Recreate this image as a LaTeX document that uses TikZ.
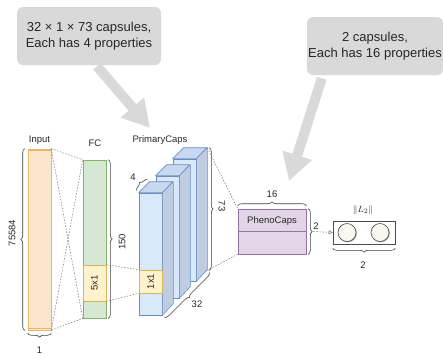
\documentclass[tikz,border=0pt]{standalone}
\usepackage{fontspec}
\setmainfont{Liberation Sans}
\usepackage{tikz}
\usetikzlibrary{positioning, arrows.meta, decorations.pathreplacing, calc, shadows}
\usepackage{xcolor}
\definecolor{inFill}{RGB}{252,229,205}
\definecolor{inDraw}{RGB}{232,184,96}
\definecolor{fcFill}{RGB}{213,232,212}
\definecolor{fcDraw}{RGB}{130,179,102}
\definecolor{ylFill}{RGB}{255,242,204}
\definecolor{ylDraw}{RGB}{214,182,86}
\definecolor{capFront}{RGB}{218,232,252}
\definecolor{capTop}{RGB}{200,216,240}
\definecolor{capSide}{RGB}{192,204,226}
\definecolor{capDraw}{RGB}{108,142,191}
\definecolor{phFill}{RGB}{225,213,231}
\definecolor{phDraw}{RGB}{150,115,166}
\definecolor{callGray}{RGB}{217,217,217}
\definecolor{unitFill}{RGB}{250,248,238}

\begin{document}
\begin{tikzpicture}[
  x=1pt, y=-1pt,
  every node/.style={font=\fontsize{9.5}{11}\selectfont, text=black!85},
  bar/.style={draw, line width=0.6pt, inner sep=0pt, minimum width=23pt},
  capface/.style={draw=capDraw, line width=0.6pt, line join=round},
  brc/.style={decorate, decoration={brace, amplitude=4pt}, draw=black!75, line width=0.6pt},
  conn/.style={draw=black!55, line width=0.5pt, dash pattern=on 1.5pt off 1.5pt},
  callout/.style={fill=callGray, rounded corners=6pt, minimum height=58pt, inner sep=0pt,
    align=center, font=\fontsize{13}{16}\selectfont},
  fatarrow/.style={draw=callGray, line width=10pt, -{Triangle[length=27pt, width=29pt]}},
  unit/.style={circle, draw=black!75, fill=unitFill, line width=0.6pt, minimum size=18pt, inner sep=0pt,
    drop shadow={shadow xshift=0.8pt, shadow yshift=-0.8pt, opacity=0.35, fill=black}},
]
\useasboundingbox (0,0) rectangle (443,357);

\node[bar, draw=inDraw, fill=inFill, minimum height=181pt] (input) at (39.5,239.5) {};
\draw[inDraw, line width=0.6pt] ([yshift=-2pt]input.north west) -- ([yshift=-2pt]input.north east);
\draw[inDraw, line width=0.6pt] ([yshift=2pt]input.south west) -- ([yshift=2pt]input.south east);
\node[bar, draw=fcDraw, fill=fcFill, minimum height=158pt] (fc) at (94.5,239) {};
\node[bar, draw=ylDraw, fill=ylFill, minimum height=36pt] (fc5x1) at (94.5,283) {};
\node[rotate=90] at (fc5x1) {5x1};

\foreach \i in {2,1,0} {
  \node[bar, draw=capDraw, fill=capFront, minimum height=122pt] (cap\i) at (150.5+17*\i, 254-17*\i) {};
  \filldraw[capface, fill=capTop] (cap\i.north west) -- ++(11,-11) -- ++(23,0) -- (cap\i.north east) -- cycle;
  \filldraw[capface, fill=capSide] (cap\i.north east) -- ++(11,-11) -- ++(0,122) -- (cap\i.south east) -- cycle;
}
\node[bar, draw=ylDraw, fill=ylFill, minimum height=23pt] (cap1x1) at (150.5,281.5) {};
\node[rotate=90] at (cap1x1) {1x1};

\node[draw=phDraw, fill=phFill, line width=0.6pt, minimum width=68pt, minimum height=45pt, inner sep=0pt] (pheno) at (272,231.5) {};
\draw[phDraw, line width=0.6pt] (pheno.west) -- (pheno.east);
\node (phenolbl) at (272,221) {PhenoCaps};

\node[draw=black!70, line width=0.6pt, minimum width=62pt, minimum height=23pt, inner sep=0pt] (l2) at (364,232.5) {};
\node[unit] (u1) at (347,232.5) {};
\node[unit] (u2) at (380,232.5) {};

\coordinate (capTopBack) at ($(cap2.north east)+(11,-11)$);
\coordinate (capBotBack) at ($(cap2.south east)+(11,-11)$);
\draw[conn] (input.north east) -- (fc.north west);
\draw[conn] (input.north east) -- (fc.south west);
\draw[conn] (input.south east) -- (fc.north west);
\draw[conn] (input.south east) -- (fc.south west);
\draw[conn] (fc5x1.north east) -- (cap1x1.north west);
\draw[conn] (fc5x1.south east) -- (cap1x1.south west);
\draw[conn] (capTopBack) -- (pheno.north west);
\draw[conn] (capBotBack) -- (pheno.south west);
\coordinate (phTip) at ($(pheno.east)+(7,0)$);
\draw[conn, -{Triangle[open, length=4pt, width=4pt]}] (phTip) -- (l2.west);

\draw[brc] ($(input.south west)+(-3,0)$) -- ($(input.north west)+(-3,0)$);
\draw[brc] ($(input.south east)+(0,3)$) -- ($(input.south west)+(0,3)$);
\draw[brc] ($(fc.north east)+(2,0)$) -- ($(fc.south east)+(2,0)$);
\draw[brc] ($(cap0.north west)+(-2,-2)$) -- ($(cap0.north west)+(9,-13)$);
\draw[brc] ($(capTopBack)+(2,0)$) -- ($(capBotBack)+(2,0)$);
\draw[brc] ($(capBotBack)+(2,2)$) -- ($(cap0.south east)+(2,2)$);
\draw[brc] ($(pheno.north west)+(0,-3)$) -- ($(pheno.north east)+(0,-3)$);
\draw[brc] ($(pheno.north east)+(2,0)$) -- ($(pheno.south east)+(2,0)$);
\draw[brc] ($(l2.south east)+(0,4)$) -- ($(l2.south west)+(0,4)$);

\node at (39.5,140) {Input};
\node at (95,143) {FC};
\node at (160,140) {PrimaryCaps};
\node[rotate=90] at (12,233) {75584};
\node at (39.5,350) {1};
\node[rotate=90] at (122,242) {150};
\node at (133,177) {4};
\node[rotate=-90] at (222,206) {73};
\node at (197,304) {32};
\node at (272,194) {16};
\node at (316,226) {2};
\node at (363,210) {$\|L_2\|$};
\node at (363,265) {2};

\node[callout, minimum width=144pt] (call1) at (89,36) {32 × 1 × 73 capsules,\\Each has 4 properties};
\node[callout, minimum width=136pt] (call2) at (375,46) {2 capsules,\\Each has 16 properties};
\coordinate (p1) at (150,128);
\coordinate (p2) at (289,181);
\draw[fatarrow] ($(call1.south)+(8,1)$) -- (p1);
\draw[fatarrow] ($(call2.south west)+(15,3)$) -- (p2);
\end{tikzpicture}
\end{document}
